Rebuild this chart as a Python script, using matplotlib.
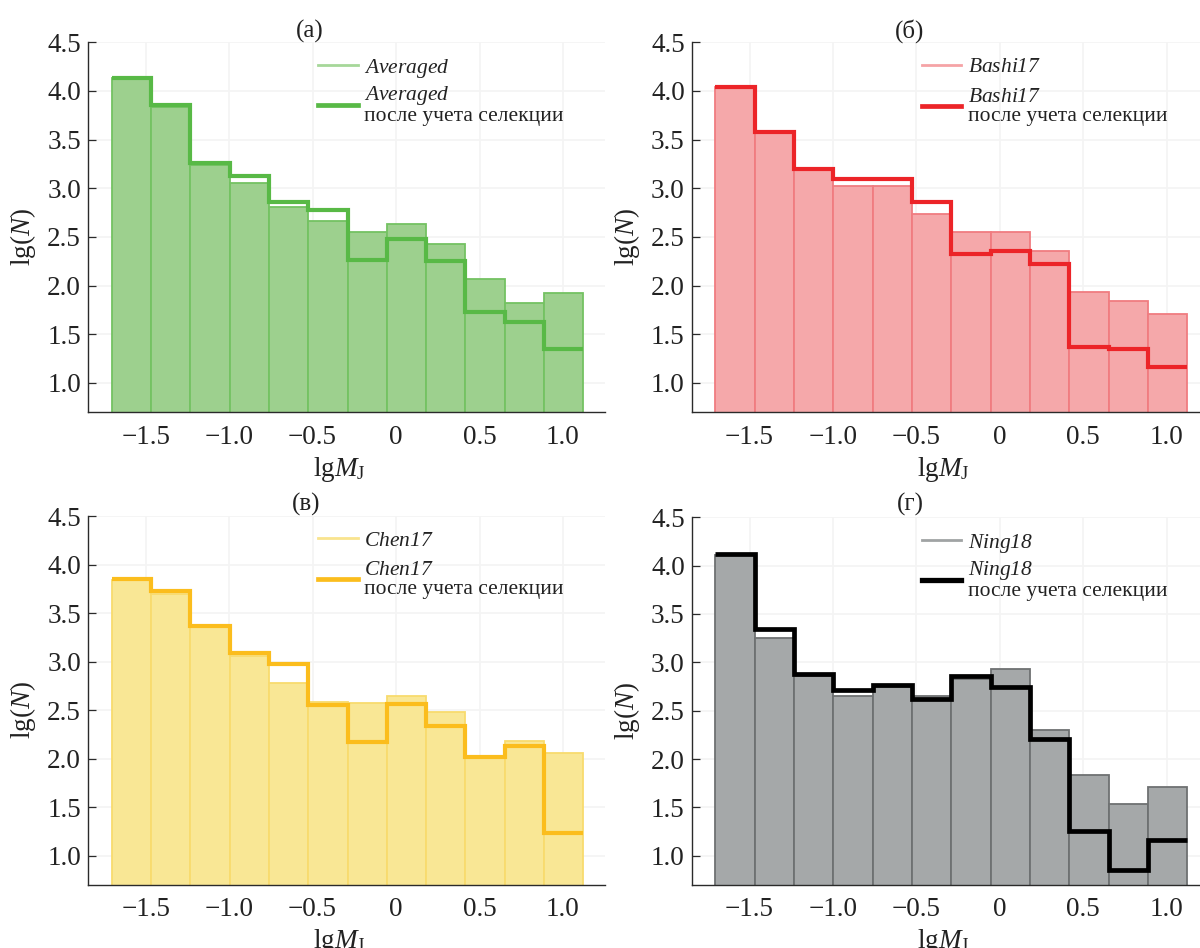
import matplotlib
matplotlib.use("Agg")
import matplotlib.pyplot as plt
import numpy as np

plt.rcParams['font.family'] = ['Liberation Serif', 'DejaVu Serif']
plt.rcParams['mathtext.fontset'] = 'custom'
plt.rcParams['mathtext.rm'] = 'Liberation Serif:italic'
plt.rcParams['mathtext.it'] = 'Liberation Serif:italic'
plt.rcParams['mathtext.sf'] = 'Liberation Serif'

# ---------------- data ----------------
bin_edges = [-1.705, -1.469, -1.234, -0.998, -0.763, -0.527, -0.291,
             -0.056, 0.180, 0.415, 0.651, 0.886, 1.122]

averaged_hist = [4.13, 3.83, 3.24, 3.05, 2.81, 2.66, 2.55, 2.63, 2.43, 2.07, 1.82, 1.92]
averaged_sel  = [4.13, 3.86, 3.26, 3.13, 2.86, 2.78, 2.26, 2.48, 2.25, 1.73, 1.62, 1.35]
bashi_hist    = [4.04, 3.57, 3.19, 3.02, 3.02, 2.74, 2.55, 2.55, 2.35, 1.93, 1.84, 1.71]
bashi_sel     = [4.04, 3.58, 3.20, 3.09, 3.10, 2.86, 2.32, 2.35, 2.22, 1.37, 1.35, 1.16]
chen_hist     = [3.84, 3.70, 3.36, 3.06, 2.78, 2.58, 2.57, 2.65, 2.48, 2.02, 2.18, 2.06]
chen_sel      = [3.85, 3.73, 3.37, 3.09, 2.98, 2.55, 2.17, 2.56, 2.34, 2.02, 2.13, 1.23]
ning_hist     = [4.11, 3.25, 2.86, 2.65, 2.74, 2.65, 2.83, 2.93, 2.30, 1.83, 1.53, 1.71]
ning_sel      = [4.12, 3.34, 2.88, 2.71, 2.77, 2.62, 2.86, 2.74, 2.21, 1.26, 0.85, 1.16]

series_names = ["Averaged", "Bashi17", "Chen17", "Ning18"]
panel_titles = ["(а)", "(б)", "(в)", "(г)"]
sel_suffix = "после учета селекции"

x_ticks = [-1.5, -1.0, -0.5, 0.0, 0.5, 1.0]
x_tick_labels = ["\u22121.5", "\u22121.0", "\u22120.5", "0", "0.5", "1.0"]
y_ticks = [1.0, 1.5, 2.0, 2.5, 3.0, 3.5, 4.0, 4.5]
y_tick_labels = ["1.0", "1.5", "2.0", "2.5", "3.0", "3.5", "4.0", "4.5"]

# ---------------- styles ----------------
styles = [
    dict(fill="#9dd08e", edge="#74c262", step="#58b946", leg="#a6d799", lw=3.0, ls=0.2),
    dict(fill="#f5a8aa", edge="#f07c80", step="#ec2428", leg="#f5a3a6", lw=3.0, ls=0.5),
    dict(fill="#f9e795", edge="#f8db6e", step="#fbbd1d", leg="#f9e48e", lw=3.0, ls=0.45),
    dict(fill="#a5a8a9", edge="#6e7172", step="#000000", leg="#a0a3a4", lw=3.4, ls=0.2),
]
hists = [averaged_hist, bashi_hist, chen_hist, ning_hist]
sels = [averaged_sel, bashi_sel, chen_sel, ning_sel]

W, H = 1200, 948
fig = plt.figure(figsize=(W / 100, H / 100), dpi=100)

# axes boxes in pixels: left, right, top, bottom
boxes = [
    (88, 605, 42.3, 412.3),
    (691.8, 1208.8, 42.3, 412.3),
    (88, 605, 516.3, 885),
    (691.8, 1208.8, 517.3, 885),
]
title_pos = [(310, 31), (910, 31), (306, 504), (910, 504)]

edges = np.array(bin_edges)
widths = np.diff(edges)

for i in range(4):
    l, r, t, b = boxes[i]
    ax = fig.add_axes([l / W, 1 - b / H, (r - l) / W, (b - t) / H])
    st = styles[i]
    ax.set_axisbelow(True)
    ax.grid(True, color="#f4f4f4", lw=1.2)
    ax.bar(edges[:-1], hists[i], width=widths, align="edge",
           color=st["fill"], edgecolor=st["edge"], linewidth=1.3, zorder=2)
    ax.stairs(sels[i], edges, baseline=None, color=st["step"],
              linewidth=st["lw"], zorder=3)
    ax.set_xlim(-1.846, 1.252)
    ax.set_ylim(0.697, 4.5)
    ax.set_xticks(x_ticks)
    ax.set_xticklabels(x_tick_labels)
    ax.set_yticks(y_ticks)
    ax.set_yticklabels(y_tick_labels)
    for s in ["top", "right"]:
        ax.spines[s].set_visible(False)
    for s in ["left", "bottom"]:
        ax.spines[s].set_color("#2a2a2a")
        ax.spines[s].set_linewidth(1.0)
    ax.tick_params(axis="both", direction="in", length=6, width=0.9,
                   color="#2a2a2a", labelsize=19.5, labelcolor="#222222")
    ax.tick_params(axis="x", pad=9)
    ax.tick_params(axis="y", pad=5)
    ax.set_ylabel(r"lg($N$)", fontsize=19.5, color="#222222")
    ax.yaxis.set_label_coords(-0.097, 0.474)
    ax.set_xlabel(r"lg$M_{\mathsf{J}}$", fontsize=19.5, color="#222222")
    ax.xaxis.set_label_coords(0.487, -0.115)

    name = series_names[i]
    h1, = ax.plot([], [], color=st["leg"], lw=2.0)
    h2, = ax.plot([], [], color=st["step"], lw=st["lw"] + 0.4)
    leg = ax.legend([h1, h2],
                    [r"$\mathrm{%s}$" % name,
                     r"$\mathrm{%s}$" % name + "\n" + sel_suffix],
                    loc="upper left", bbox_to_anchor=(0.436, 0.972),
                    frameon=False, fontsize=15.5, handlelength=1.85,
                    handletextpad=0.3, labelspacing=st["ls"], borderpad=0.2,
                    borderaxespad=0)
    for txt in leg.get_texts():
        txt.set_color("#222222")
        txt.set_linespacing(1.0)

    tx, ty = title_pos[i]
    fig.text(tx / W, 1 - ty / H, panel_titles[i], fontsize=18,
             ha="center", va="center", color="#222222")

fig.savefig("out.png", dpi=100)
